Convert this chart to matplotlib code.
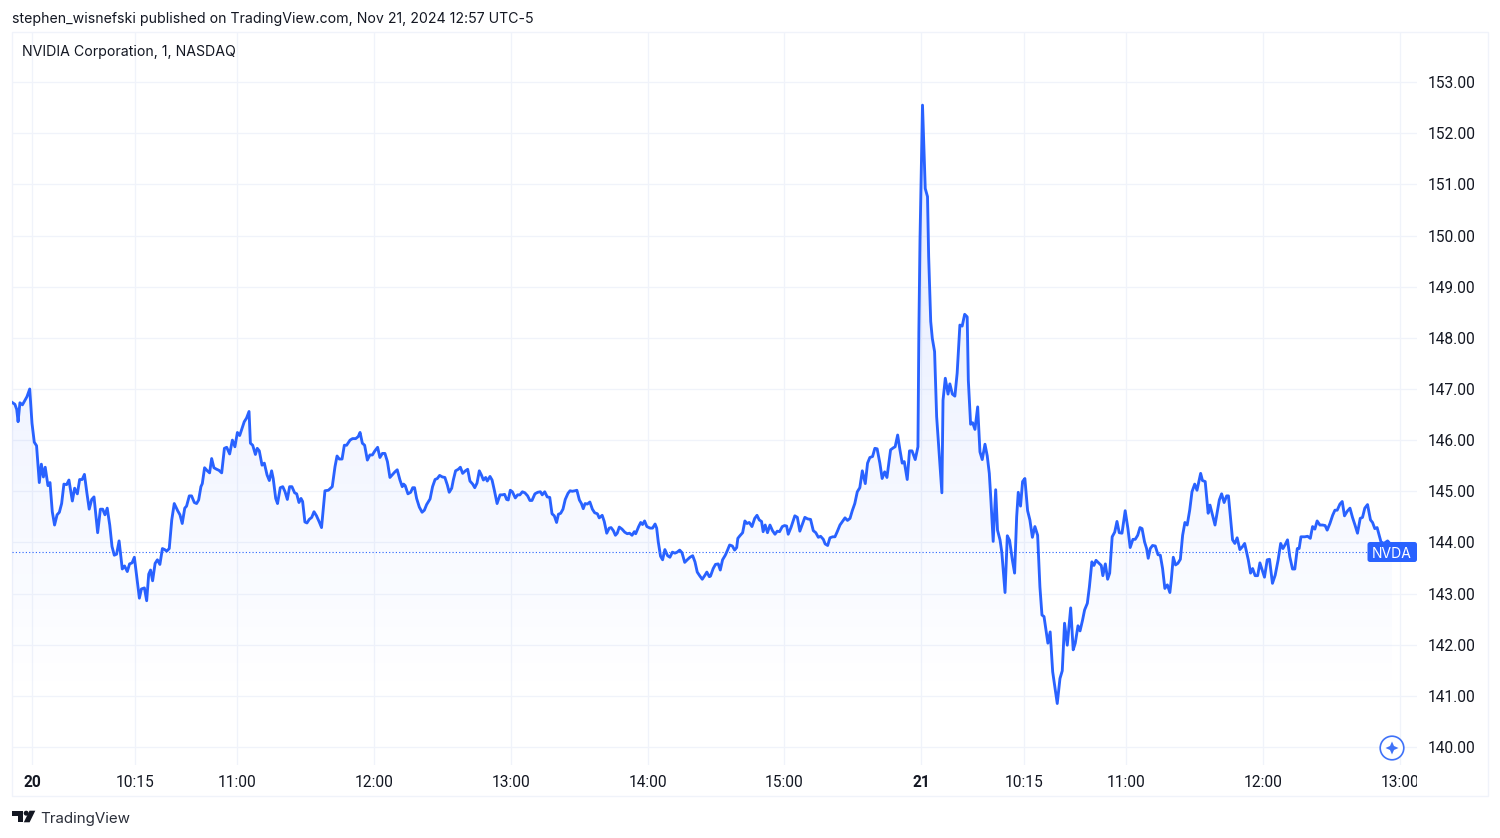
import numpy as np
import matplotlib
matplotlib.use("Agg")
import matplotlib.pyplot as plt
from matplotlib.patches import Rectangle, FancyBboxPatch, Polygon, Circle
from matplotlib.transforms import IdentityTransform, Bbox

# minutes since the 09:30 open on Nov 20 (one session = 390 minutes)
minutes = [-8.8,-7.5,-6.7,-6.1,-5.3,-4.2,-3.1,-2.2,-1.0,0,1.0,2.0,3.2,4.1,5.0,5.8,7.0,7.9,8.9,9.9,11.0,12.0,13.0,14.0,15.2,16.2,17.7,18.7,19.9,20.9,22.0,23.0,24.1,25.1,26.2,27.2,28.8,30.0,31.0,32.0,33.0,34.1,35.1,36.1,37.1,38.2,39.6,40.6,41.8,42.8,43.9,44.9,47.1,48.0,49.3,50.3,51.2,52.0,52.9,54.0,55.0,56.1,57.2,58.2,59.1,60.2,61.3,62.4,63.9,64.9,65.9,67.0,67.8,69.0,70.0,71.2,72.2,73.1,74.1,74.7,75.7,76.9,77.9,78.8,79.8,81.0,82.0,83.2,84.4,85.4,86.7,87.9,89.0,90.1,91.1,93.1,94.1,95.2,95.8,96.8,98.0,98.8,99.7,100.9,101.9,103.1,104.1,105.1,105.8,106.9,107.7,108.9,110.0,111.0,112.0,113.0,114.0,115.2,116.1,117.1,118.0,118.7,119.7,120.6,121.6,122.7,123.7,124.8,126.0,127.0,128.5,130.0,131.7,132.9,133.8,134.8,136.0,137.0,138.0,
139.5,140.6,142.0,143.1,143.9,144.9,145.9,147.1,148.2,149.3,150.4,151.6,152.6,153.7,154.8,155.9,157.0,158.2,159.2,160.2,161.4,162.4,163.0,163.7,164.9,166.1,167.0,167.8,168.7,169.9,171.1,172.1,173.1,174.6,175.7,176.8,177.8,178.8,180.0,181.1,182.2,183.0,184.1,184.8,185.8,187.0,187.9,188.9,190.1,191.1,192.1,193.3,194.2,195.2,196.2,197.1,198.0,199.0,199.7,200.9,201.8,202.8,204.0,205.3,206.3,207.3,208.2,208.9,209.8,210.7,212.0,213.0,214.0,215.1,216.2,217.4,218.4,219.3,220.6,221.8,223.0,223.8,224.9,226.0,227.1,228.1,229.1,230.1,230.9,231.9,232.9,233.9,235.1,236.0,237.0,238.2,239.0,240.1,241.0,241.8,242.6,243.6,244.7,245.8,246.8,248.0,248.8,250.1,251.0,252.1,253.2,254.0,255.0,255.9,256.7,257.6,258.8,260.0,261.1,262.1,263.2,264.2,264.8,266.1,267.0,267.8,268.7,269.7,271.1,272.2,273.3,274.0,274.7,275.7,276.6,277.6,278.8,279.8,280.9,282.0,283.0,284.1,285.1,286.3,287.4,
288.6,289.8,290.8,291.8,293.0,294.0,295.2,296.0,297.1,297.6,298.8,299.8,301.0,301.9,302.9,304.1,305.0,306.0,307.2,308.2,309.1,309.6,310.5,311.7,312.7,313.6,314.6,315.8,317.0,318.0,319.0,320.0,320.7,321.6,322.6,323.7,324.8,325.9,326.9,327.9,329.1,330.1,331.0,331.7,332.9,334.6,335.7,336.8,338.0,339.0,340.2,341.5,342.7,343.8,344.9,345.9,347.1,347.9,349.0,350.0,351.2,352.2,353.2,354.4,355.5,356.6,357.7,358.8,359.8,360.9,362.0,363.1,364.2,365.5,366.5,367.5,368.7,369.7,370.7,371.9,372.9,374.0,375.0,376.6,377.8,378.6,379.7,380.7,381.7,382.6,383.9,384.9,386.0,387.4,388.6,
389.0,389.5,390.6,391.2,391.8,392.8,393.3,394.2,394.9,395.9,396.8,398.1,399.1,399.6,400.6,401.8,402.6,403.7,404.8,405.8,407.0,408.0,409.1,410.2,410.7,411.7,412.6,413.6,414.8,415.8,416.8,418.0,419.0,419.9,420.6,421.6,422.7,423.5,424.6,425.4,426.8,427.8,428.8,430.0,431.0,431.9,432.6,
433.6,434.5,435.5,436.7,437.7,438.8,439.9,441.1,442.1,443.0,443.9,445.6,446.6,447.7,449.7,450.9,451.9,452.9,454.1,455.6,456.7,457.6,458.8,459.7,460.8,461.7,462.9,463.8,464.9,465.8,466.7,468.1,469.0,469.7,470.8,471.8,472.7,473.8,474.9,475.9,476.9,478.1,479.5,480.7,481.7,482.9,483.9,485.0,486.0,486.9,488.0,488.9,489.6,490.5,491.5,492.7,493.9,494.9,495.9,496.9,498.0,499.1,499.7,500.6,501.6,502.6,503.7,504.7,505.7,506.7,507.8,508.8,510.0,511.0,
512.6,513.4,514.6,515.9,516.7,518.9,520.8,521.8,522.9,524.0,524.8,526.6,527.6,528.6,529.8,531.0,531.9,533.5,534.5,535.4,536.5,537.6,538.6,539.6,540.6,541.8,542.8,544.1,545.3,546.6,547.7,548.7,549.7,550.7,551.7,552.9,553.9,555.0,555.8,556.6,558.3,559.5,560.7,561.7,562.7,563.7,564.9,566.1,567.2,568.1,569.3,570.5,571.5,572.5,573.7,574.7,575.7,576.9,578.1,579.2,580.3,581.4,582.6,583.6,584.6,585.8,587.1,588.0,589.0,590.0,591.7,593.0,594.6,595.6,596.5]

prices = [146.74,146.70,146.60,146.36,146.73,146.69,146.78,146.85,147.00,146.33,145.96,145.89,145.17,145.53,145.28,145.47,145.11,145.17,144.60,144.34,144.54,144.59,144.76,145.14,145.13,145.22,144.81,145.06,144.95,145.23,145.23,145.33,144.96,144.65,144.84,144.89,144.19,144.65,144.65,144.54,144.67,144.34,143.92,143.75,143.77,144.03,143.48,143.54,143.43,143.58,143.60,143.71,142.91,143.09,143.11,142.86,143.38,143.46,143.25,143.59,143.66,143.57,143.88,143.86,143.83,143.88,144.44,144.76,144.62,144.54,144.37,144.67,144.71,144.91,144.91,144.78,144.76,144.83,145.09,145.15,145.46,145.40,145.36,145.64,145.46,145.43,145.41,145.36,145.84,145.86,145.73,146.00,145.87,146.15,146.09,146.36,146.43,146.56,145.94,145.90,145.72,145.84,145.79,145.51,145.55,145.32,145.21,145.40,145.25,144.86,144.76,145.07,145.09,144.99,144.84,145.09,145.09,144.97,144.95,144.78,144.86,144.80,144.40,144.38,144.45,144.49,144.60,144.52,144.40,144.29,145.01,145.02,145.09,145.48,145.69,145.63,145.63,145.90,145.90,
146.00,146.03,146.03,146.07,146.15,145.94,145.90,145.61,145.71,145.71,145.79,145.86,145.66,145.74,145.74,145.58,145.27,145.33,145.38,145.42,145.22,145.09,145.14,145.11,144.95,144.98,145.07,145.07,144.86,144.69,144.59,144.63,144.74,144.85,145.09,145.23,145.25,145.31,145.28,145.27,145.12,144.98,145.06,145.22,145.40,145.43,145.47,145.35,145.40,145.43,145.20,145.14,145.07,145.16,145.40,145.32,145.22,145.27,145.20,145.29,145.22,145.02,144.76,144.93,144.93,144.94,144.84,144.83,145.02,144.99,144.87,144.93,144.93,144.99,144.97,144.91,144.82,144.82,144.95,144.98,144.99,144.93,144.99,144.89,144.88,144.56,144.52,144.39,144.55,144.57,144.65,144.84,144.96,145.01,145.00,145.01,145.02,144.83,144.76,144.66,144.76,144.75,144.79,144.65,144.58,144.56,144.48,144.53,144.41,144.18,144.28,144.29,144.23,144.14,144.18,144.30,144.26,144.20,144.17,144.18,144.14,144.21,144.17,144.31,144.39,144.35,144.42,144.31,144.28,144.28,144.36,144.28,144.01,143.73,143.66,143.86,143.74,143.71,143.81,143.79,143.81,143.85,143.80,143.61,143.66,
143.71,143.74,143.62,143.42,143.34,143.28,143.36,143.42,143.33,143.34,143.49,143.57,143.58,143.46,143.66,143.75,143.84,143.95,143.93,143.85,143.90,144.08,144.13,144.19,144.42,144.37,144.39,144.31,144.47,144.53,144.44,144.41,144.21,144.34,144.19,144.34,144.23,144.16,144.22,144.21,144.31,144.33,144.32,144.16,144.29,144.52,144.49,144.22,144.37,144.49,144.46,144.45,144.23,144.19,144.10,144.12,144.06,143.97,143.94,144.09,144.11,144.11,144.21,144.34,144.41,144.48,144.43,144.47,144.62,144.76,144.99,145.07,145.40,145.15,145.55,145.66,145.68,145.84,145.83,145.55,145.25,145.38,145.27,145.81,145.85,145.87,146.10,145.81,145.55,145.58,145.23,145.79,145.79,145.62,145.87,
148.09,149.91,152.55,151.74,150.92,150.76,149.59,148.32,147.99,147.73,146.46,145.61,144.97,146.78,147.21,146.90,147.10,146.90,146.86,147.31,148.25,148.23,148.46,148.41,147.17,146.31,146.34,146.21,146.65,145.77,145.62,145.92,145.69,145.35,144.83,144.02,145.03,144.24,144.05,143.80,143.02,144.13,144.04,143.66,143.40,144.50,144.98,
144.71,145.19,145.25,144.62,144.44,144.10,144.31,144.14,143.13,142.58,142.55,142.03,142.25,141.47,140.85,141.34,141.49,142.42,141.99,142.72,141.90,142.03,142.37,142.27,142.48,142.68,142.81,143.13,143.62,143.55,143.65,143.59,143.55,143.35,143.58,143.28,143.40,144.11,144.20,144.41,144.19,144.18,144.62,144.27,143.90,144.06,144.06,144.14,144.29,144.27,144.01,143.88,143.69,143.88,143.94,143.93,143.76,143.75,143.49,143.10,143.17,143.02,143.26,143.71,143.56,143.59,143.67,144.14,144.39,144.34,144.63,144.99,145.14,145.02,
145.35,145.21,145.19,144.57,144.73,144.34,144.83,144.95,144.78,144.91,144.91,144.05,143.98,144.09,143.86,143.92,143.98,143.66,143.40,143.49,143.35,143.35,143.60,143.46,143.32,143.66,143.67,143.20,143.36,143.66,143.98,143.88,143.96,144.05,143.72,143.48,143.48,143.88,143.88,144.11,144.11,144.12,144.08,144.31,144.26,144.42,144.34,144.34,144.33,144.24,144.37,144.53,144.63,144.63,144.75,144.80,144.52,144.61,144.67,144.49,144.34,144.18,144.47,144.49,144.67,144.74,144.44,144.39,144.27,144.29,144.01,143.98,144.03,143.98,143.81]

last_price = 143.81
price_ticks = list(range(140, 154))
time_tick_minutes = [0, 45, 90, 150, 210, 270, 330, 390, 435, 480, 540, 600]
time_tick_labels = ["20", "10:15", "11:00", "12:00", "13:00", "14:00", "15:00",
                    "21", "10:15", "11:00", "12:00", "13:00"]
bold_labels = {"20", "21"}
symbol = "NVDA"

plt.rcParams['font.family'] = ['Inter', 'DejaVu Sans']
W, H = 1500, 838
TEXT = '#131722'
GRID = '#f0f3fa'
BLUE = '#2962ff'
fig = plt.figure(figsize=(W / 100, H / 100), dpi=100, facecolor='white')

def py(y):
    return H - y

px_tf = IdentityTransform()
fig.add_artist(Rectangle((12, py(796)), 1476, 764, transform=px_tf, fc='white', ec=GRID, lw=1, zorder=-5))

ax = fig.add_axes([12 / W, (H - 765) / H, 1405 / W, 733 / H])
ax.patch.set_alpha(0)
for s in ax.spines.values():
    s.set_visible(False)
ax.set_xlim(-8.77, 607.5)
ax.set_ylim(139.648, 153.98)
ax.yaxis.tick_right()
ax.set_yticks(price_ticks)
ax.set_yticklabels([f"{t:.2f}" for t in price_ticks])
ax.set_xticks(time_tick_minutes)
ax.set_xticklabels(time_tick_labels)
ax.tick_params(axis='both', length=0, labelsize=11.2, labelcolor=TEXT)
ax.tick_params(axis='x', pad=7.3)
ax.tick_params(axis='y', pad=7.8)
ax.grid(True, color=GRID, lw=0.95, zorder=0)
ax.set_axisbelow(True)
clip = Bbox([[0, 0], [1417, H]])
for lab in list(ax.get_xticklabels()) + list(ax.get_yticklabels()):
    lab.set_fontfamily(['Roboto', 'DejaVu Sans'])
for lab in ax.get_xticklabels():
    if lab.get_text() in bold_labels:
        lab.set_fontweight('bold')
    lab.set_clip_on(True)
    lab.set_clip_box(clip)

# area under the line with a fading gradient
xl, yl = ax.get_xlim(), ax.get_ylim()
n = 256
grad = np.zeros((n, 1, 4))
grad[..., 0], grad[..., 1], grad[..., 2] = 0x29 / 255, 0x62 / 255, 1.0
vals = np.linspace(yl[1], yl[0], n)
grad[:, 0, 3] = np.clip(0.13 * (vals - 140.92) / (152.55 - 140.92), 0, 0.2)
im = ax.imshow(grad, extent=[xl[0], xl[1], yl[0], yl[1]], aspect='auto', zorder=1,
               interpolation='bilinear')
poly = Polygon(list(zip(minutes, prices)) + [(minutes[-1], yl[0]), (minutes[0], yl[0])],
               closed=True, transform=ax.transData, fc='none', ec='none')
ax.add_patch(poly)
im.set_clip_path(poly)
ax.set_xlim(xl)
ax.set_ylim(yl)

ax.axhline(last_price, color=BLUE, lw=0.8, ls=(0, (1, 2)), zorder=2)
ax.plot(minutes, prices, color=BLUE, lw=2.05, solid_joinstyle='round', zorder=3)

# last price label
fig.add_artist(FancyBboxPatch((1369, py(560.5)), 46.5, 17,
                              boxstyle='round,pad=1.5,rounding_size=2.5',
                              transform=px_tf, fc=BLUE, ec='none', zorder=5))
fig.text(1392 / W, 1 - 553.5 / H, symbol, color='white', fontsize=10, ha='center', va='center', zorder=6)

# header texts
fig.text(12 / W, 1 - 19.5 / H, "stephen_wisnefski published on TradingView.com, Nov 21, 2024 12:57 UTC-5",
         color=TEXT, fontsize=10.2, va='center', ha='left')
fig.text(22 / W, 1 - 52 / H, "NVIDIA Corporation, 1, NASDAQ", color=TEXT, fontsize=10.2, va='center', ha='left')

# TradingView mark
fig.add_artist(Polygon([(12, py(810.7)), (23.3, py(810.7)), (23.3, py(822.3)), (18.3, py(822.3)),
                        (18.3, py(816)), (12, py(816))], closed=True, transform=px_tf, fc=TEXT, ec='none'))
fig.add_artist(Circle((26.2, py(813.2)), 2.5, transform=px_tf, fc=TEXT, ec='none'))
fig.add_artist(Polygon([(29.5, py(810.7)), (35.3, py(810.7)), (29.6, py(822.3)), (23.8, py(822.3))],
                       closed=True, transform=px_tf, fc=TEXT, ec='none'))
fig.text(40 / W, 1 - 818.5 / H, "TradingView", color='#2a2e39', fontsize=10.9, va='center', ha='left')

# assistant badge
cx, cy = 1392, py(748)
fig.add_artist(Circle((cx, cy), 11.8, transform=px_tf, fc='white', ec='#3f72f8', lw=1.2, zorder=6))
r, q = 6.5, 2.0
star = [(cx, cy + r), (cx + q, cy + q), (cx + r, cy), (cx + q, cy - q),
        (cx, cy - r), (cx - q, cy - q), (cx - r, cy), (cx - q, cy + q)]
fig.add_artist(Polygon(star, closed=True, transform=px_tf, fc='#3f72f8', ec='none', zorder=7))

fig.savefig('out.png', dpi=100)
